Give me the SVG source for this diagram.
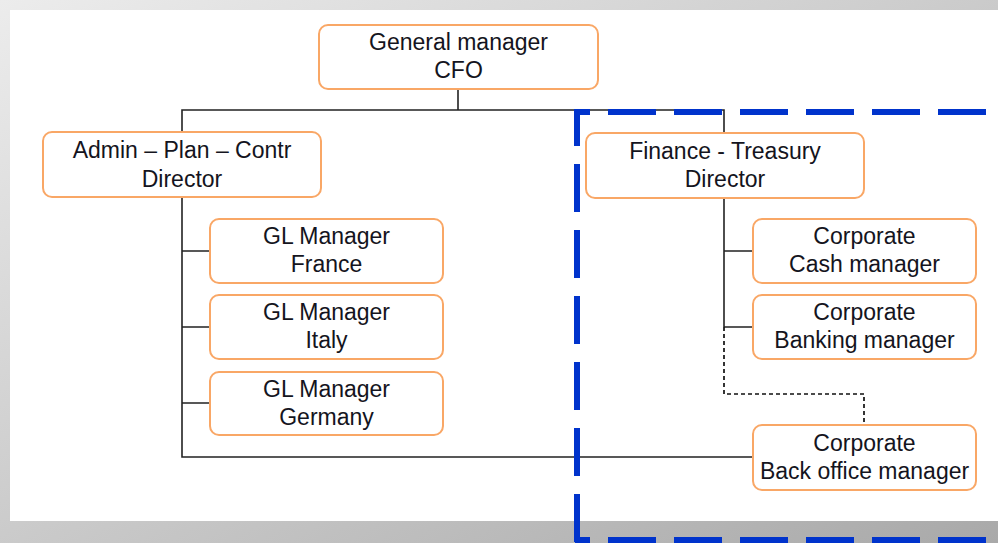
<svg xmlns="http://www.w3.org/2000/svg" width="998" height="543" viewBox="0 0 998 543">
  <defs>
    <linearGradient id="bgGrad" x1="0" y1="0" x2="1" y2="1">
      <stop offset="0" stop-color="#ececec"/>
      <stop offset="1" stop-color="#a9a9a9"/>
    </linearGradient>
    <style>
      .box { fill: #ffffff; stroke: #f9a766; stroke-width: 2; }
      .lbl { font-family: "Liberation Sans", Arial, sans-serif; font-size: 23px; fill: #141420; text-anchor: middle; }
      .link { fill: none; stroke: #222222; stroke-width: 1.6; }
      .dotted { fill: none; stroke: #111111; stroke-width: 1.7; stroke-dasharray: 4 3; }
      .scope { fill: none; stroke: #0033cc; stroke-width: 6; stroke-dasharray: 48 18; }
    </style>
  </defs>

  <!-- page background and sheet -->
  <rect x="0" y="0" width="998" height="543" fill="url(#bgGrad)"/>
  <rect x="10" y="10" width="988" height="511" fill="#ffffff"/>

  <!-- connectors -->
  <g id="connectors">
    <path class="link" d="M458 89 V110 M182 132 V110 H724 V133"/>
    <path class="link" d="M182 197 V457 H753"/>
    <path class="link" d="M182 251 H210 M182 327 H210 M182 403 H210"/>
    <path class="link" d="M724 198 V327 M724 251 H753 M724 327 H753"/>
    <path class="dotted" d="M724 327 V394 H864 V425"/>
  </g>

  <!-- nodes -->
  <g id="cfo">
    <rect class="box" x="319" y="25" width="279" height="64" rx="9"/>
    <text class="lbl" x="458.5" y="50">General manager</text>
    <text class="lbl" x="458.5" y="78">CFO</text>
  </g>
  <g id="admin-director">
    <rect class="box" x="43" y="132" width="278" height="65" rx="9"/>
    <text class="lbl" x="182" y="158">Admin – Plan – Contr</text>
    <text class="lbl" x="182" y="187">Director</text>
  </g>
  <g id="finance-director">
    <rect class="box" x="586" y="133" width="278" height="65" rx="9"/>
    <text class="lbl" x="725" y="159">Finance - Treasury</text>
    <text class="lbl" x="725" y="187">Director</text>
  </g>
  <g id="gl-france">
    <rect class="box" x="210" y="219" width="233" height="64" rx="9"/>
    <text class="lbl" x="326.5" y="244">GL Manager</text>
    <text class="lbl" x="326.5" y="272">France</text>
  </g>
  <g id="gl-italy">
    <rect class="box" x="210" y="295" width="233" height="64" rx="9"/>
    <text class="lbl" x="326.5" y="320">GL Manager</text>
    <text class="lbl" x="326.5" y="348">Italy</text>
  </g>
  <g id="gl-germany">
    <rect class="box" x="210" y="372" width="233" height="63" rx="9"/>
    <text class="lbl" x="326.5" y="397">GL Manager</text>
    <text class="lbl" x="326.5" y="425">Germany</text>
  </g>
  <g id="cash-manager">
    <rect class="box" x="753" y="219" width="223" height="64" rx="9"/>
    <text class="lbl" x="864.5" y="244">Corporate</text>
    <text class="lbl" x="864.5" y="272">Cash manager</text>
  </g>
  <g id="banking-manager">
    <rect class="box" x="753" y="295" width="223" height="64" rx="9"/>
    <text class="lbl" x="864.5" y="320">Corporate</text>
    <text class="lbl" x="864.5" y="348">Banking manager</text>
  </g>
  <g id="back-office-manager">
    <rect class="box" x="753" y="425" width="223" height="65" rx="9"/>
    <text class="lbl" x="864.5" y="451">Corporate</text>
    <text class="lbl" x="864.5" y="479">Back office manager</text>
  </g>

  <!-- treasury scope frame -->
  <g id="treasury-scope">
    <line class="scope" x1="575" y1="112" x2="998" y2="112" stroke-dashoffset="33"/>
    <line class="scope" x1="577" y1="109" x2="577" y2="543" stroke-dashoffset="11"/>
    <line class="scope" x1="575" y1="540" x2="998" y2="540" stroke-dashoffset="33"/>
  </g>
</svg>
